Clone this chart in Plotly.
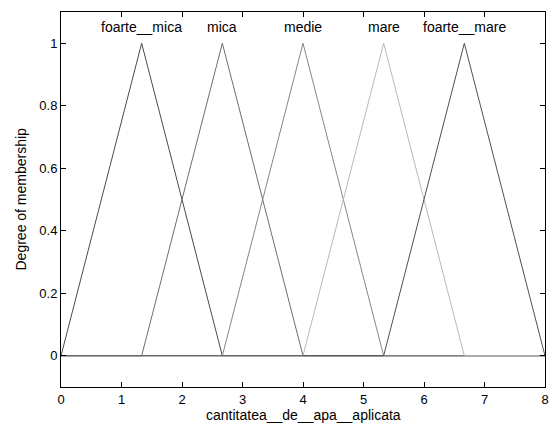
import plotly.graph_objects as go

names = ["foarte__mica", "mica", "medie", "mare", "foarte__mare"]
left = [0.0, 1.3333, 2.6667, 4.0, 5.3333]
peak = [1.3333, 2.6667, 4.0, 5.3333, 6.6667]
right = [2.6667, 4.0, 5.3333, 6.6667, 8.0]
colors = ["#4a4a4a", "#6e6e6e", "#858585", "#b8b8b8", "#505050"]
x_min, x_max = 0.0, 8.0
x_ticks = [0, 1, 2, 3, 4, 5, 6, 7, 8]
y_ticks = [0, 0.2, 0.4, 0.6, 0.8, 1]
y_tick_labels = ["0", "0.2", "0.4", "0.6", "0.8", "1"]
x_title = "cantitatea__de__apa__aplicata"
y_title = "Degree of membership"

FONT = "Liberation Sans, Arial, sans-serif"

fig = go.Figure()
for n, a, b, c, col in zip(names, left, peak, right, colors):
    fig.add_trace(go.Scatter(
        x=[x_min, a, b, c, x_max], y=[0, 0, 1, 0, 0],
        mode="lines", line=dict(color=col, width=1), name=n,
        hoverinfo="skip", showlegend=False))
    fig.add_annotation(x=b, y=1.0, yshift=16, text=n, showarrow=False,
                       yanchor="middle", font=dict(size=14, color="black", family=FONT))

fig.add_annotation(xref="paper", yref="paper", x=0, y=0.5, xshift=-41,
                   text=y_title, textangle=-90, showarrow=False,
                   xanchor="center", yanchor="middle",
                   font=dict(size=14, color="black", family=FONT))
fig.add_annotation(xref="paper", yref="paper", x=0.5, y=0, yshift=-28,
                   text=x_title, showarrow=False,
                   xanchor="center", yanchor="middle",
                   font=dict(size=14, color="black", family=FONT))

fig.update_layout(
    width=555, height=430,
    margin=dict(l=61, r=10, t=12, b=43),
    paper_bgcolor="white", plot_bgcolor="white",
    font=dict(family=FONT, size=14, color="black"),
    showlegend=False,
)
fig.update_xaxes(range=[x_min, x_max], tickvals=x_ticks, ticks="inside", ticklen=5,
                 tickcolor="black", showline=True, linecolor="black", linewidth=1,
                 mirror="ticks", showgrid=False, zeroline=False, automargin=False,
                 tickfont=dict(size=13))
fig.update_yaxes(range=[-0.1, 1.1], tickvals=y_ticks, ticktext=y_tick_labels,
                 ticks="inside", ticklen=5, tickcolor="black", showline=True,
                 linecolor="black", linewidth=1, mirror="ticks", showgrid=False,
                 zeroline=False, automargin=False, tickfont=dict(size=13))

fig.write_html("out.html", config={"displayModeBar": False},
               post_script="document.body.style.margin='0';")
